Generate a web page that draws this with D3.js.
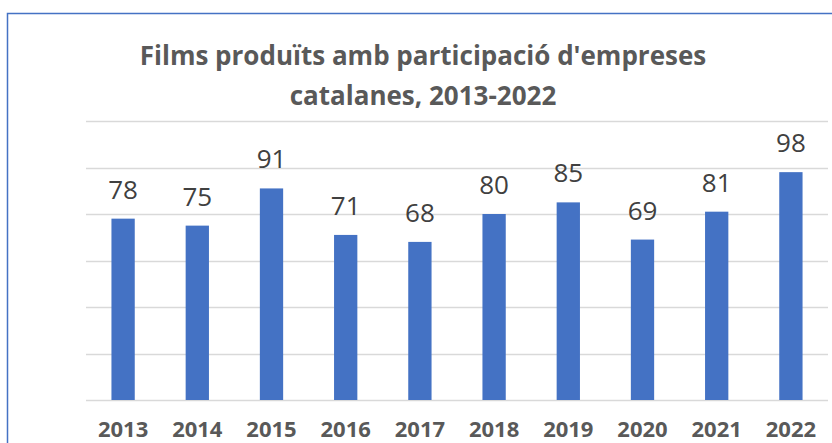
<!DOCTYPE html>
<html>
<head>
<meta charset="utf-8">
<script src="https://cdn.jsdelivr.net/npm/d3@7"></script>
<style>
  html, body { margin: 0; padding: 0; background: #fff; overflow: hidden; }
  svg { display: block; font-family: "Open Sans", Lato, sans-serif; }
</style>
</head>
<body>
<div id="chart"></div>
<script>
// chart data
const years = ["2013", "2014", "2015", "2016", "2017", "2018", "2019", "2020", "2021", "2022"];
const films = [78, 75, 91, 71, 68, 80, 85, 69, 81, 98];
const yTicks = [0, 20, 40, 60, 80, 100, 120];
const titleLines = ["Films produïts amb participació d'empreses", "catalanes, 2013-2022"];

const width = 832, height = 443;
const margin = { left: 86, right: 4, top: 121, bottom: 43 };

const svg = d3.select("#chart").append("svg")
  .attr("width", width)
  .attr("height", height);

// chart area border (the frame runs off the right and bottom edges)
svg.append("path")
  .attr("d", "M7.5," + (height + 5) + " V13.5 H" + (width + 5))
  .attr("fill", "none")
  .attr("stroke", "#4472C4")
  .attr("stroke-width", 1.5);

const x = d3.scaleBand()
  .domain(years)
  .range([margin.left, width - margin.right])
  .paddingInner(0.686)
  .paddingOuter(0.343);

const y = d3.scaleLinear()
  .domain([0, 120])
  .range([height - margin.bottom, margin.top]);

// gridlines
svg.append("g")
  .selectAll("line")
  .data(yTicks)
  .join("line")
    .attr("x1", margin.left)
    .attr("x2", width - margin.right)
    .attr("y1", d => Math.round(y(d)) + 0.5)
    .attr("y2", d => Math.round(y(d)) + 0.5)
    .attr("stroke", "#d9d9d9")
    .attr("stroke-width", 1.5);

// bars
svg.append("g")
  .selectAll("rect")
  .data(films)
  .join("rect")
    .attr("x", (d, i) => x(years[i]))
    .attr("y", d => y(d))
    .attr("width", x.bandwidth())
    .attr("height", d => y(0) - y(d))
    .attr("fill", "#4472C4");

// value labels
svg.append("g")
  .selectAll("text")
  .data(films)
  .join("text")
    .attr("x", (d, i) => x(years[i]) + x.bandwidth() / 2)
    .attr("y", d => y(d) - 20)
    .attr("text-anchor", "middle")
    .attr("font-size", 26)
    .attr("fill", "#404040")
    .text(d => d);

// x axis labels
svg.append("g")
  .selectAll("text")
  .data(years)
  .join("text")
    .attr("x", d => x(d) + x.bandwidth() / 2)
    .attr("y", 437)
    .attr("text-anchor", "middle")
    .attr("font-size", 22)
    .attr("font-weight", "bold")
    .attr("fill", "#595959")
    .text(d => d);

// title
svg.append("g")
  .selectAll("text")
  .data(titleLines)
  .join("text")
    .attr("x", 423)
    .attr("y", (d, i) => 65 + i * 40)
    .attr("text-anchor", "middle")
    .attr("font-size", 26)
    .attr("font-weight", "bold")
    .attr("fill", "#595959")
    .text(d => d);
</script>
</body>
</html>
